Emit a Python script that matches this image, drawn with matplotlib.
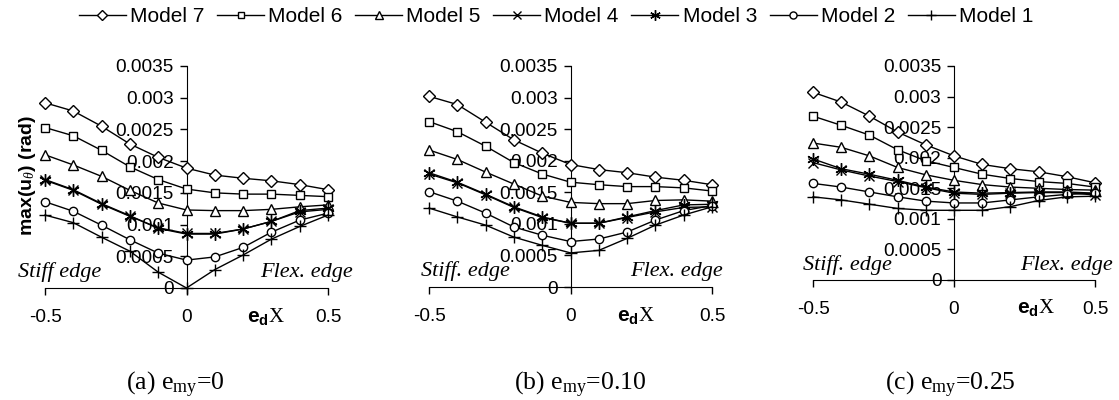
import numpy as np
import matplotlib
matplotlib.use("Agg")
import matplotlib.pyplot as plt
from matplotlib.lines import Line2D

plt.rcParams['font.family'] = ['Liberation Sans', 'DejaVu Sans']
plt.rcParams['mathtext.fontset'] = 'custom'
plt.rcParams['mathtext.rm'] = 'Liberation Serif'
plt.rcParams['mathtext.it'] = 'Liberation Serif:italic'
plt.rcParams['mathtext.bf'] = 'Liberation Sans:bold'

# eccentricity e_dx
edx = [-0.5, -0.4, -0.3, -0.2, -0.1, 0.0, 0.1, 0.2, 0.3, 0.4, 0.5]

models = ["Model 7", "Model 6", "Model 5", "Model 4", "Model 3", "Model 2", "Model 1"]
markers = ["D", "s", "^", "x", (6, 2, 0), "o", "+"]
msizes = [6.5, 5.5, 6.5, 7, 9, 6, 8]

# (a) e_my = 0   (values in 1e-3 rad)
a_m7 = [2.92, 2.79, 2.55, 2.27, 2.06, 1.89, 1.78, 1.73, 1.69, 1.63, 1.55]
a_m6 = [2.53, 2.40, 2.17, 1.91, 1.71, 1.56, 1.50, 1.48, 1.48, 1.46, 1.44]
a_m5 = [2.10, 1.94, 1.76, 1.54, 1.34, 1.23, 1.22, 1.22, 1.24, 1.28, 1.31]
a_m4 = [1.70, 1.54, 1.32, 1.13, 0.95, 0.86, 0.86, 0.93, 1.05, 1.20, 1.24]
a_m3 = [1.71, 1.55, 1.33, 1.14, 0.94, 0.85, 0.85, 0.93, 1.05, 1.22, 1.26]
a_m2 = [1.36, 1.21, 0.99, 0.76, 0.55, 0.44, 0.49, 0.64, 0.88, 1.07, 1.18]
a_m1 = [1.15, 1.03, 0.80, 0.58, 0.25, 0.00, 0.29, 0.52, 0.77, 0.97, 1.15]

# (b) e_my = 0.10
b_m7 = [3.02, 2.89, 2.61, 2.33, 2.12, 1.94, 1.86, 1.81, 1.74, 1.69, 1.62]
b_m6 = [2.62, 2.46, 2.23, 1.97, 1.79, 1.66, 1.62, 1.59, 1.59, 1.57, 1.52]
b_m5 = [2.17, 2.02, 1.82, 1.63, 1.44, 1.34, 1.32, 1.32, 1.37, 1.38, 1.36]
b_m4 = [1.79, 1.65, 1.46, 1.26, 1.10, 1.01, 1.01, 1.10, 1.19, 1.26, 1.27]
b_m3 = [1.81, 1.66, 1.47, 1.27, 1.11, 1.01, 1.01, 1.11, 1.21, 1.30, 1.31]
b_m2 = [1.51, 1.36, 1.17, 0.95, 0.82, 0.72, 0.76, 0.87, 1.06, 1.21, 1.29]
b_m1 = [1.25, 1.11, 0.98, 0.79, 0.66, 0.54, 0.58, 0.77, 0.98, 1.14, 1.27]

# (c) e_my = 0.25
c_m7 = [3.07, 2.91, 2.68, 2.42, 2.21, 2.03, 1.89, 1.82, 1.77, 1.69, 1.59]
c_m6 = [2.68, 2.53, 2.37, 2.13, 1.95, 1.84, 1.73, 1.66, 1.61, 1.58, 1.52]
c_m5 = [2.24, 2.17, 2.03, 1.84, 1.72, 1.63, 1.56, 1.52, 1.50, 1.48, 1.47]
c_m4 = [1.92, 1.80, 1.70, 1.61, 1.51, 1.42, 1.40, 1.42, 1.43, 1.43, 1.39]
c_m3 = [1.98, 1.82, 1.73, 1.63, 1.52, 1.44, 1.42, 1.43, 1.44, 1.44, 1.42]
c_m2 = [1.58, 1.52, 1.44, 1.36, 1.29, 1.26, 1.26, 1.31, 1.36, 1.40, 1.42]
c_m1 = [1.36, 1.31, 1.24, 1.17, 1.14, 1.14, 1.14, 1.20, 1.30, 1.36, 1.37]

panels = [
    ([a_m7, a_m6, a_m5, a_m4, a_m3, a_m2, a_m1], "(a) e$_{\\mathrm{my}}$=0", "Stiff edge"),
    ([b_m7, b_m6, b_m5, b_m4, b_m3, b_m2, b_m1], "(b) e$_{\\mathrm{my}}$=0.10", "Stiff. edge"),
    ([c_m7, c_m6, c_m5, c_m4, c_m3, c_m2, c_m1], "(c) e$_{\\mathrm{my}}$=0.25", "Stiff. edge"),
]

W, H = 1119, 400
fig = plt.figure(figsize=(W / 100, H / 100), dpi=100)

# axes boxes in pixels: left, top, right, bottom
boxes = [(45, 66, 328, 288), (429, 66, 712, 287), (813, 66, 1095, 280)]
stiff_x = [-0.095, -0.03, -0.035]
flex_x = [1.088, 1.04, 1.064]
ed_x = [0.715, 0.665, 0.725]
cap_x = [175, 580, 950]

yt = [0, 0.0005, 0.001, 0.0015, 0.002, 0.0025, 0.003, 0.0035]
ytl = ["0", "0.0005", "0.001", "0.0015", "0.002", "0.0025", "0.003", "0.0035"]

for i, (series, caption, stiff) in enumerate(panels):
    l, t, r, b = boxes[i]
    ax = fig.add_axes([l / W, 1 - b / H, (r - l) / W, (b - t) / H])
    ax.set_axisbelow(True)
    for vals, mk, ms in zip(series, markers, msizes):
        ax.plot(edx, np.array(vals) * 1e-3, color="black", lw=1.0,
                marker=mk, ms=ms, mfc="white", mec="black", mew=1.0,
                clip_on=False, zorder=3)
    ax.set_xlim(-0.5, 0.5)
    ax.set_ylim(0, 0.0035)
    ax.spines['left'].set_position(('data', 0))
    ax.spines['top'].set_visible(False)
    ax.spines['right'].set_visible(False)
    ax.set_xticks([-0.5, 0, 0.5])
    ax.set_xticklabels(["-0.5", "0", "0.5"])
    ax.set_yticks(yt)
    ax.set_yticklabels(ytl)
    ax.tick_params(direction="out", length=5, width=1, labelsize=13.7, pad=10)
    ax.tick_params(axis="y", pad=4)
    ax.text(stiff_x[i], 0.07, stiff, transform=ax.transAxes, fontsize=16,
            family="Liberation Serif", style="italic", ha="left", va="center")
    ax.text(flex_x[i], 0.07, "Flex. edge", transform=ax.transAxes, fontsize=16,
            family="Liberation Serif", style="italic", ha="right", va="center")
    ax.text(ed_x[i], -0.13, "$\\mathbf{e}_{\\mathbf{d}}\\mathrm{X}$",
            transform=ax.transAxes, fontsize=15, ha="left", va="center")
    fig.text(cap_x[i] / W, 1 - 385 / H, caption, fontsize=18.5,
             family="Liberation Serif", ha="center", va="center")
    if i == 0:
        fig.text(28 / W, 1 - 176 / H, "max(u$_{\\theta}$) (rad)", rotation=90,
                 fontsize=14, fontweight="bold", ha="center", va="center")

handles = [Line2D([], [], color="black", lw=1.0, marker=mk, ms=ms * 0.85,
                  mfc="white", mec="black") for mk, ms in zip(markers, msizes)]
fig.legend(handles, models, loc="center", bbox_to_anchor=(556 / W, 1 - 17 / H),
           ncol=7, frameon=False, fontsize=15, handlelength=2.26,
           columnspacing=0.6, handletextpad=0.2)

fig.savefig("out.png", dpi=100)
